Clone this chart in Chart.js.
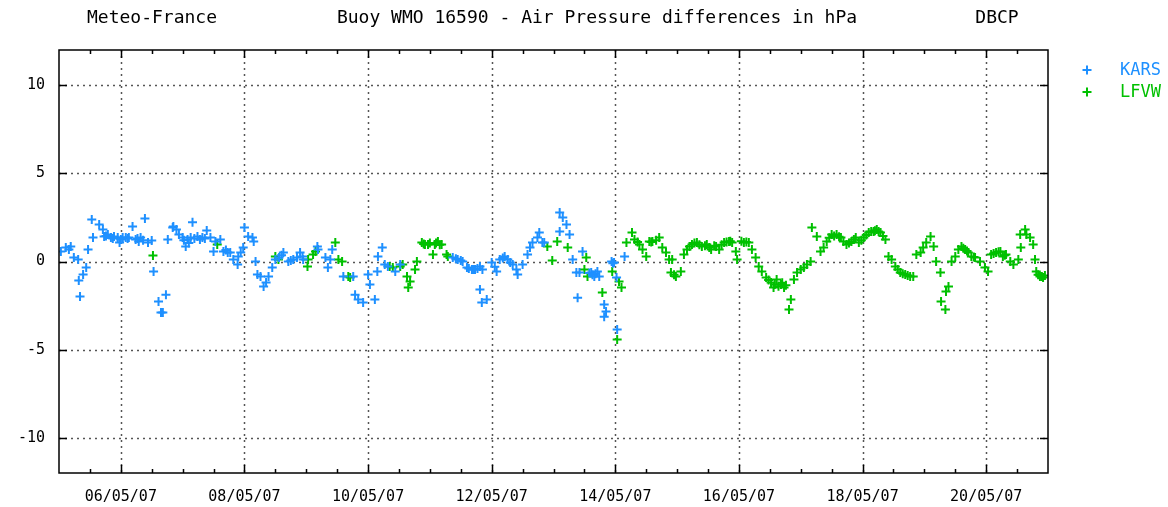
<!DOCTYPE html>
<html>
<head>
<meta charset="utf-8">
<title>Buoy WMO 16590 - Air Pressure differences</title>
<script src="https://cdn.jsdelivr.net/npm/chart.js@4.4.1/dist/chart.umd.min.js"></script>
<style>
  html, body { margin: 0; padding: 0; background: #fff; }
  canvas { display: block; }
</style>
</head>
<body>
<canvas id="pressureChart" width="1168" height="507"></canvas>
<script>
// Observation times (day of May 2007) and pressure differences (hPa)
const karsDays = [
  5.03,5.11,5.16,5.19,5.24,5.31,5.32,5.34,5.39,5.44,5.47,5.53,5.55,5.65,5.71,5.73,5.79,5.84,5.89,5.95,
  5.98,6.03,6.08,6.13,6.19,6.24,6.29,6.32,6.39,6.44,6.50,6.53,6.61,6.65,6.68,6.73,6.76,6.84,6.85,6.90,
  6.94,7.00,7.05,7.08,7.16,7.13,7.24,7.32,7.39,7.45,7.50,7.53,7.61,7.66,7.73,7.77,7.82,7.89,7.90,7.94,
  7.98,8.00,8.06,8.13,8.15,8.18,8.21,8.26,8.31,8.35,8.39,8.45,8.50,8.56,8.63,8.71,8.79,8.85,8.94,
  8.90,8.95,9.18,9.19,9.31,9.35,9.42,9.39,9.60,9.76,9.79,9.84,9.92,10.11,10.00,10.03,10.15,10.16,10.23,10.27,
  10.32,10.44,10.52,
  11.37,11.45,11.53,11.60,11.68,11.73,11.81,11.85,11.81,11.84,11.92,12.00,12.08,12.13,12.21,12.26,12.34,12.40,12.42,12.50,
  12.58,12.66,12.74,12.77,12.82,
  12.85,13.10,13.15,13.21,13.10,13.26,13.31,13.37,13.42,13.47,13.39,13.61,13.66,13.71,13.74,13.82,13.85,13.82,13.94,13.98,
  14.02,14.03,14.15,
  5.76,5.87,6.00,6.11,6.27,6.36,7.02,7.10,7.19,7.28,7.36,7.70,8.60,8.75,
  11.42,11.50,11.63,11.70,11.77,12.05,12.18,12.30,12.62,13.58,13.63,13.68,13.96
];
const karsValues = [
  0.57,0.80,0.68,0.85,0.23,0.11,-1.08,-1.99,-0.74,-0.34,0.68,2.39,1.36,2.10,1.82,1.42,1.53,1.36,1.42,1.36,
  1.08,1.36,1.36,1.36,1.99,1.25,1.14,1.36,2.44,1.08,1.19,-0.57,-2.27,-2.90,-2.90,-1.88,1.25,1.93,1.99,1.82,
  1.53,1.36,0.85,1.25,2.22,1.36,1.42,1.36,1.76,1.36,0.57,1.14,1.25,0.57,0.51,0.51,0.11,-0.17,0.28,0.51,
  0.80,1.93,1.42,1.36,1.14,0.00,-0.74,-0.85,-1.42,-1.19,-0.85,-0.34,0.11,0.23,0.51,0.00,0.11,0.23,0.28,
  0.51,0.11,0.85,0.68,0.23,-0.34,0.68,0.11,-0.85,-0.85,-1.88,-2.16,-2.33,-2.16,-0.74,-1.31,-0.57,0.28,0.80,-0.17,
  -0.28,-0.57,-0.17,
  0.23,0.11,0.00,-0.34,-0.45,-0.45,-0.28,-0.45,-1.59,-2.33,-2.16,-0.06,-0.57,0.11,0.28,0.11,-0.17,-0.45,-0.74,-0.17,
  0.40,1.08,1.36,1.65,1.08,
  1.08,2.78,2.50,2.10,1.70,1.53,0.11,-0.62,-0.62,0.57,-2.05,-0.62,-0.85,-0.57,-0.85,-2.44,-2.84,-3.13,0.00,-0.06,
  -0.91,-3.86,0.28,
  1.45,1.30,1.25,1.30,1.30,1.20,1.20,1.05,1.30,1.25,1.30,0.65,0.35,0.05,
  0.15,0.05,-0.40,-0.45,-0.40,-0.30,0.20,-0.05,0.80,-0.65,-0.75,-0.70,-0.10
];

const lfvwDays = [
  6.52,7.56,8.50,8.55,9.02,9.03,9.11,9.15,9.47,9.52,9.58,9.68,9.71,10.35,10.40,10.52,10.56,10.63,10.68,10.65,
  10.76,10.79,10.87,10.92,10.97,11.05,11.08,11.13,11.19,11.27,11.29,12.90,12.98,13.06,13.23,13.53,13.50,13.55,13.79,13.95,
  14.06,14.10,14.03,14.18,14.27,14.31,14.39,14.44,14.50,14.55,14.60,14.71,14.76,14.82,14.87,14.92,14.90,14.98,15.06,15.11,
  15.16,15.24,15.32,15.40,15.48,15.55,15.63,15.68,15.76,15.84,15.89,15.95,15.97,16.08,16.16,16.21,16.27,16.32,16.37,16.44,
  16.52,16.56,16.61,16.68,16.73,16.84,16.81,16.89,16.94,17.00,17.05,17.10,17.16,17.18,17.26,17.32,17.37,17.42,17.50,17.58,
  17.65,17.69,17.74,17.82,17.89,17.94,18.02,18.10,18.18,18.23,18.29,18.37,18.42,18.47,18.53,18.61,18.69,18.77,18.82,18.87,
  18.94,18.98,19.03,19.10,19.15,19.19,19.26,19.39,19.35,19.27,19.34,19.44,19.50,19.55,19.60,19.66,19.71,19.76,19.82,19.90,
  19.98,20.03,20.08,20.16,20.23,20.27,20.32,20.39,20.44,20.52,20.56,20.55,20.63,20.65,20.71,20.76,20.79,20.81,20.87,20.92,
  10.90,11.00,11.10,11.16,14.36,14.58,14.66,14.95,
  15.20,15.28,15.36,15.45,15.52,15.60,15.72,15.80,15.86,16.04,16.12,
  16.48,16.58,16.64,16.70,16.76,
  17.46,17.54,17.62,17.78,17.86,17.98,18.06,18.14,18.20,18.26,18.33,
  18.57,18.65,18.73,19.63,19.69,19.80,20.12,20.20,20.30,20.84,20.90,20.95
];
const lfvwValues = [
  0.34,0.97,0.28,0.11,-0.28,0.11,0.40,0.57,1.08,0.11,0.00,-0.85,-0.91,-0.28,-0.34,-0.28,-0.17,-0.85,-1.14,-1.48,
  -0.45,0.00,1.08,0.97,0.97,0.40,0.97,1.14,0.97,0.40,0.28,0.85,0.06,1.14,0.80,0.23,-0.45,-0.85,-1.76,-0.57,
  -1.14,-1.48,-4.43,1.08,1.65,1.25,0.97,0.68,0.28,1.14,1.14,1.36,0.80,0.51,0.11,0.11,-0.62,-0.85,-0.57,0.40,
  0.68,0.97,1.08,0.85,0.97,0.68,0.85,0.68,1.08,1.14,1.08,0.57,0.11,1.08,1.08,0.68,0.23,-0.28,-0.57,-0.91,
  -1.19,-1.48,-1.02,-1.31,-1.48,-2.16,-2.73,-1.02,-0.62,-0.45,-0.34,-0.17,0.00,1.93,1.42,0.57,0.80,1.14,1.53,1.53,
  1.36,1.14,0.97,1.14,1.36,1.08,1.36,1.65,1.70,1.82,1.65,1.25,0.28,0.11,-0.28,-0.62,-0.74,-0.85,-0.85,0.40,
  0.51,0.80,1.08,1.42,0.85,0.00,-0.62,-1.42,-1.70,-2.27,-2.73,0.00,0.28,0.68,0.85,0.68,0.51,0.28,0.23,0.00,
  -0.34,-0.57,0.40,0.51,0.57,0.28,0.40,0.00,-0.17,0.11,0.80,1.53,1.82,1.53,1.36,0.97,0.11,-0.57,-0.85,-0.91,
  1.00,1.05,1.05,0.95,1.10,1.10,1.20,-0.75,
  0.85,1.05,0.95,0.90,0.80,0.90,0.95,1.10,1.15,1.15,1.10,
  -1.05,-1.30,-1.40,-1.20,-1.35,
  1.35,1.45,1.40,1.05,1.25,1.20,1.50,1.70,1.75,1.70,1.45,
  -0.45,-0.70,-0.80,0.75,0.60,0.25,0.45,0.55,0.35,-0.75,-0.85,-0.80
];

// Axis ticks
const xTickDays = [6, 8, 10, 12, 14, 16, 18, 20];
const xTickLabels = ['06/05/07', '08/05/07', '10/05/07', '12/05/07', '14/05/07', '16/05/07', '18/05/07', '20/05/07'];
const yTicks = [-10, -5, 0, 5, 10];

const KARS_COLOR = '#1e90ff';
const LFVW_COLOR = '#00c000';
const MONO = '"DejaVu Sans Mono", "Liberation Mono", monospace';

function toPoints(days, values) {
  return days.map((d, i) => ({ x: d, y: values[i] }));
}

// gnuplot-like frame: dotted grid, inward ticks, header texts and key
const framePlugin = {
  id: 'gnuplotFrame',
  beforeDatasetsDraw(chart) {
    const { ctx, chartArea: a, scales: { x, y } } = chart;
    ctx.save();
    ctx.strokeStyle = '#555';
    ctx.lineWidth = 1.5;
    ctx.setLineDash([2, 4]);
    ctx.beginPath();
    xTickDays.forEach(d => {
      const px = Math.round(x.getPixelForValue(d)) + 0.5;
      ctx.moveTo(px, a.top);
      ctx.lineTo(px, a.bottom);
    });
    yTicks.forEach(v => {
      const py = Math.round(y.getPixelForValue(v)) + 0.5;
      ctx.moveTo(a.left, py);
      ctx.lineTo(a.right, py);
    });
    ctx.stroke();
    ctx.restore();
  },
  afterDatasetsDraw(chart) {
    const { ctx, chartArea: a, scales: { x, y } } = chart;
    ctx.save();
    ctx.strokeStyle = '#000';
    ctx.lineWidth = 1.5;
    ctx.setLineDash([]);
    ctx.strokeRect(a.left, a.top, a.right - a.left, a.bottom - a.top);

    // tick marks every half day, longer on labelled days
    ctx.beginPath();
    for (let d = 5.5; d < 21; d += 0.5) {
      const px = Math.round(x.getPixelForValue(d)) + 0.5;
      const len = xTickDays.includes(d) ? 8 : 4;
      ctx.moveTo(px, a.bottom);
      ctx.lineTo(px, a.bottom - len);
      ctx.moveTo(px, a.top);
      ctx.lineTo(px, a.top + len);
    }
    yTicks.forEach(v => {
      const py = Math.round(y.getPixelForValue(v)) + 0.5;
      ctx.moveTo(a.left, py);
      ctx.lineTo(a.left + 8, py);
      ctx.moveTo(a.right, py);
      ctx.lineTo(a.right - 8, py);
    });
    ctx.stroke();

    // header line
    ctx.fillStyle = '#000';
    ctx.font = '18px ' + MONO;
    ctx.textBaseline = 'middle';
    ctx.textAlign = 'center';
    ctx.fillText('Meteo-France', 152, 18);
    ctx.fillText('Buoy WMO 16590 - Air Pressure differences in hPa', 597, 18);
    ctx.fillText('DBCP', 997, 18);

    // key
    ctx.textAlign = 'left';
    ctx.font = '17px ' + MONO;
    chart.data.datasets.forEach((ds, i) => {
      const ky = 70 + i * 22;
      ctx.strokeStyle = ds.borderColor;
      ctx.lineWidth = 2;
      ctx.beginPath();
      ctx.moveTo(1082.5, ky);
      ctx.lineTo(1091.5, ky);
      ctx.moveTo(1087, ky - 4.5);
      ctx.lineTo(1087, ky + 4.5);
      ctx.stroke();
      ctx.fillStyle = ds.borderColor;
      ctx.fillText(ds.label, 1120, ky + 1);
    });
    ctx.restore();
  }
};

document.addEventListener('DOMContentLoaded', function() {
  if (typeof Chart === 'undefined') {
    console.error('Chart.js library not loaded');
    return;
  }

  const pointStyle = {
    pointStyle: 'cross',
    pointRadius: 4.5,
    pointHoverRadius: 4.5,
    borderWidth: 2,
    showLine: false
  };

  const config = {
    type: 'scatter',
    data: {
      datasets: [
        Object.assign({
          label: 'KARS',
          data: toPoints(karsDays, karsValues),
          borderColor: KARS_COLOR,
          backgroundColor: KARS_COLOR
        }, pointStyle),
        Object.assign({
          label: 'LFVW',
          data: toPoints(lfvwDays, lfvwValues),
          borderColor: LFVW_COLOR,
          backgroundColor: LFVW_COLOR
        }, pointStyle)
      ]
    },
    options: {
      responsive: false,
      animation: false,
      events: [],
      layout: { padding: { top: 50, right: 120, left: 0, bottom: 0 } },
      scales: {
        x: {
          type: 'linear',
          min: 5,
          max: 21,
          grid: { display: false, drawTicks: false },
          border: { display: false },
          afterBuildTicks(scale) {
            scale.ticks = xTickDays.map(v => ({ value: v }));
          },
          afterFit(scale) {
            scale.height = 34;
          },
          ticks: {
            autoSkip: false,
            maxRotation: 0,
            padding: 15,
            color: '#000',
            font: { family: MONO, size: 15 },
            callback: v => xTickLabels[xTickDays.indexOf(v)]
          }
        },
        y: {
          min: -12,
          max: 12,
          grid: { display: false, drawTicks: false },
          border: { display: false },
          afterBuildTicks(scale) {
            scale.ticks = yTicks.map(v => ({ value: v }));
          },
          afterFit(scale) {
            scale.width = 59;
          },
          ticks: {
            padding: 14,
            color: '#000',
            font: { family: MONO, size: 15 }
          }
        }
      },
      plugins: {
        legend: { display: false },
        title: { display: false },
        tooltip: { enabled: false }
      }
    },
    plugins: [framePlugin]
  };

  new Chart(document.getElementById('pressureChart'), config);
});
</script>
</body>
</html>
